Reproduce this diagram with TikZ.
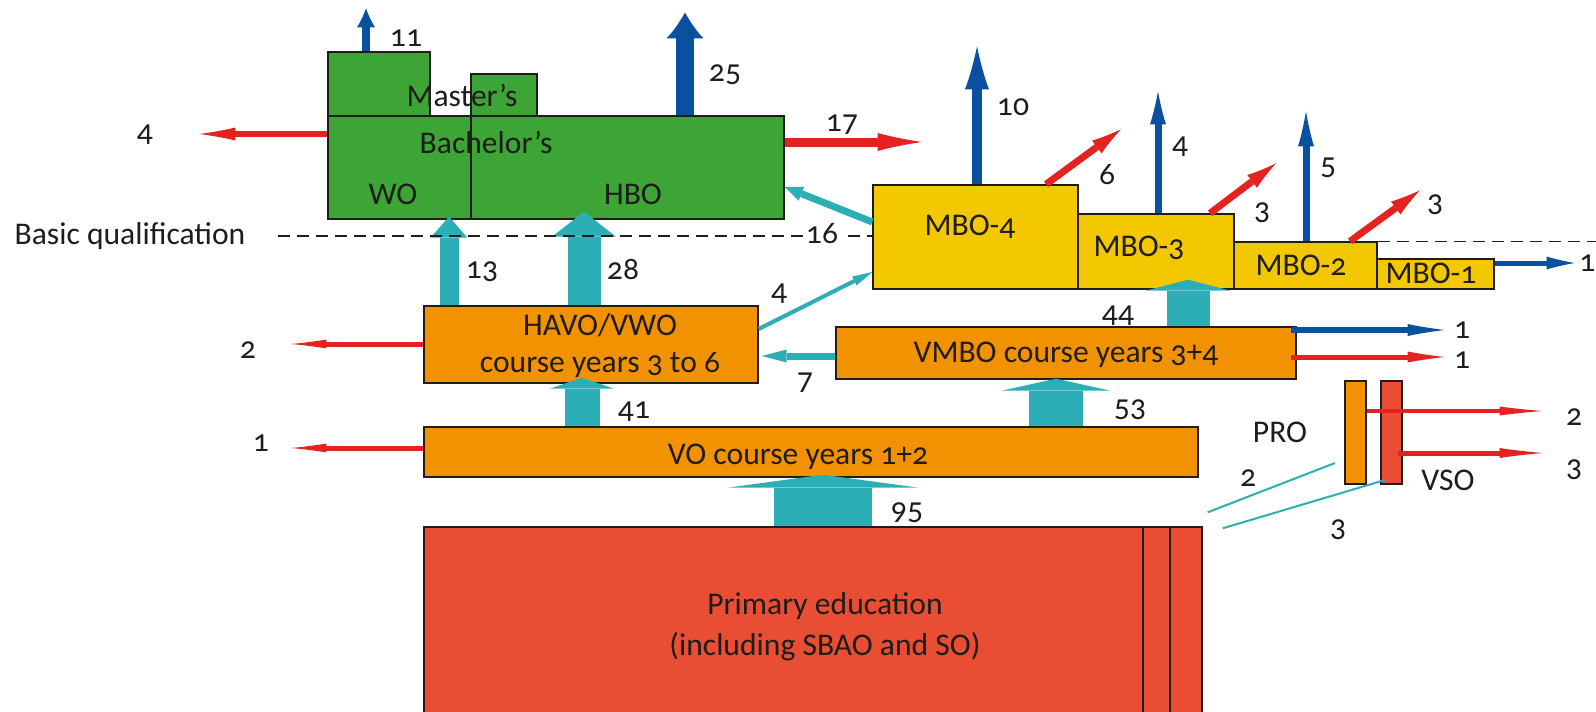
\documentclass[tikz,border=0pt]{standalone}
\usepackage{fontspec}
\setmainfont{Carlito}[Numbers=OldStyle]
\usetikzlibrary{arrows.meta,fit}
\definecolor{wogreen}{HTML}{3DA535}
\definecolor{vorange}{HTML}{F39200}
\definecolor{mboyellow}{HTML}{F3C800}
\definecolor{primred}{HTML}{E94E35}
\definecolor{flowteal}{HTML}{2BAEB5}
\definecolor{exitblue}{HTML}{0A50A1}
\definecolor{dropred}{HTML}{E42320}
\definecolor{inkdark}{HTML}{1D1D1B}
\begin{document}
\begin{tikzpicture}[x=0.5pt, y=-0.5pt, font=\fontsize{15.8}{18.5}\selectfont, text=inkdark,
  box/.style={draw=inkdark, line width=0.7pt, inner sep=0pt},
  lbl/.style={inner sep=0pt, align=center},
  flow/.style n args={3}{draw=flowteal, line width=#1, -{Triangle[width=#2, length=#3, line width=0pt]}},
  exit/.style n args={4}{draw=#1, line width=#2, -{Latex[width=#3, length=#4, line width=0pt]}}]
\useasboundingbox (0,0) rectangle (1596,712);

% higher education
\node[box, fill=wogreen, fit={(328,52) (430,116)}] (womaster) {};
\node[box, fill=wogreen, fit={(471,74) (537,116)}] (hbomaster) {};
\node[box, fill=wogreen, fit={(328,116) (471,219)}] (wo) {};
\node[box, fill=wogreen, fit={(471,116) (784,219)}] (hbo) {};

% MBO levels
\node[box, fill=mboyellow, fit={(873,185) (1078,289)}] (mbo4) {};
\node[box, fill=mboyellow, fit={(1078,214) (1234,289)}] (mbo3) {};
\node[box, fill=mboyellow, fit={(1234,242) (1377,289)}] (mbo2) {};
\node[box, fill=mboyellow, fit={(1377,259) (1494,289)}] (mbo1) {};

% secondary and primary
\node[box, fill=vorange, fit={(424,306) (758,383)}] (havo) {};
\node[box, fill=vorange, fit={(836,327) (1296,379)}] (vmbo) {};
\node[box, fill=vorange, fit={(424,427) (1198,477)}] (vo) {};
\node[box, fill=vorange, fit={(1345,381) (1366,484)}] (pro) {};
\node[box, fill=primred, fit={(1381,381) (1402,484)}] (vso) {};
\node[box, fill=primred, fit={(424,527) (1202,730)}] (prim) {};
\draw[inkdark, line width=0.7pt] (1143,0 |- prim.north) -- (1143,0 |- prim.south);
\draw[inkdark, line width=0.7pt] (1170,0 |- prim.north) -- (1170,0 |- prim.south);

% flows between levels
\draw[flow={49pt}{95.5pt}{6.5pt}, shorten >=-1.5pt] (823,0 |- prim.north) -- (823,0 |- vo.south);
\draw[flow={17.5pt}{32pt}{5.5pt}, shorten >=-3pt] (582,0 |- vo.north) -- (582,0 |- havo.south);
\draw[flow={27pt}{54.5pt}{6pt}, shorten >=-0.5pt] (1056,0 |- vo.north) -- (1056,0 |- vmbo.south);
\draw[flow={21.5pt}{42.5pt}{5.5pt}, shorten >=-5pt] (1188,0 |- vmbo.north) -- (1188,0 |- mbo3.south);
\draw[flow={9.5pt}{18.5pt}{10.5pt}, shorten >=-1.5pt] (449,0 |- havo.north) -- (449,0 |- wo.south);
\draw[flow={16.5pt}{32pt}{12.5pt}, shorten >=-4pt] (584,0 |- havo.north) -- (584,0 |- hbo.south);
\draw[flow={3.5pt}{7.5pt}{9pt}] (mbo4.west |- 0,222) -- (hbo.east |- 0,187);
\draw[flow={2pt}{5pt}{10pt}] (havo.east |- 0,329) -- (mbo4.west |- 0,272);
\draw[flow={3.5pt}{6.5pt}{12.5pt}, shorten >=1.5pt] (vmbo.west |- 0,356) -- (havo.east |- 0,356);
\coordinate (profeed) at (1335,463);
\coordinate (vsofeed) at (1385,480);
\draw[flowteal, line width=1pt] (prim.north east) ++(5,-14) -- (profeed);
\draw[flowteal, line width=1pt] (prim.north east) ++(20,2) -- (vsofeed);

% leaving with a qualification
\draw[exit={exitblue}{4pt}{9pt}{9.5pt}] (366,0 |- womaster.north) -- ++(0,-43);
\draw[exit={exitblue}{9pt}{18.5pt}{13pt}] (685,0 |- hbo.north) -- ++(0,-103);
\draw[exit={exitblue}{5pt}{12pt}{21.5pt}] (977,0 |- mbo4.north) -- ++(0,-138);
\draw[exit={exitblue}{3.5pt}{8pt}{16.5pt}] (1158,0 |- mbo3.north) -- ++(0,-122);
\draw[exit={exitblue}{3.5pt}{8pt}{17.5pt}] (1306,0 |- mbo2.north) -- ++(0,-130);
\draw[exit={exitblue}{2.5pt}{6.5pt}{14pt}] (mbo1.east |- 0,263) -- ++(80,0);
\draw[exit={exitblue}{3pt}{6pt}{18.5pt}] (vmbo.east |- 0,330) ++(-6,0) -- ++(154,0);

% leaving without one
\draw[exit={dropred}{3pt}{6.5pt}{18pt}] (wo.west |- 0,134) -- ++(-128,0);
\draw[exit={dropred}{4.5pt}{9pt}{22pt}] (hbo.east |- 0,142) -- ++(137,0);
\draw[exit={dropred}{3.5pt}{8pt}{15pt}] (1046,0 |- mbo4.north) -- ++(75,-55);
\draw[exit={dropred}{3.5pt}{8pt}{15pt}] (1210,0 |- mbo3.north) -- ++(66,-50);
\draw[exit={dropred}{3.5pt}{8pt}{15pt}] (1350,0 |- mbo2.north) -- ++(70,-51);
\draw[exit={dropred}{2.5pt}{4.5pt}{17.5pt}] (havo.west |- 0,344) -- ++(-132,0);
\draw[exit={dropred}{2.5pt}{4.5pt}{17.5pt}] (vo.west |- 0,448) -- ++(-132,0);
\draw[exit={dropred}{2.5pt}{5.5pt}{18.5pt}] (vmbo.east |- 0,357) ++(-6,0) -- ++(154,0);
\draw[exit={dropred}{2pt}{4.5pt}{21.5pt}] (pro.east |- 0,411) -- ++(176,0);
\draw[exit={dropred}{2.5pt}{5pt}{21.5pt}] (vso.east |- 0,453) ++(-5,0) -- ++(145,0);

% basic qualification line
\node[lbl] (basictxt) at (130,236) {Basic qualification};
\draw[inkdark, line width=0.6pt, dash pattern=on 6pt off 3.5pt] (278,236) -- (mbo4.west |- 0,236);
\draw[inkdark, line width=0.6pt, dash pattern=on 6pt off 3.5pt] (mbo2.north east) -- ++(225,0);

% box texts
\node[lbl] (mastertxt) at (462,95) {Master’s};
\node[lbl] (bachelortxt) at (486,142) {Bachelor’s};
\node[lbl] (wotxt) at (393,194) {WO};
\node[lbl] (hbotxt) at (633,194) {HBO};
\node[lbl] (mbo4txt) at (970,227) {MBO-4};
\node[lbl] (mbo3txt) at (1139,248) {MBO-3};
\node[lbl] (mbo2txt) at (1301,265) {MBO-2};
\node[lbl] (mbo1txt) at (1431,273) {MBO-1};
\node[lbl] (havotxt) at (600,346) {HAVO/VWO\\course years 3 to 6};
\node[lbl] (vmbotxt) at (1066,355) {VMBO course years 3+4};
\node[lbl] (votxt) at (798,457) {VO course years 1+2};
\node[lbl] (primtxt) at (825,627) {Primary education\\[2pt](including SBAO and SO)};
\node[lbl] (protxt) at (1280,432) {PRO};
\node[lbl] (vsotxt) at (1448,480) {VSO};

% numbers
\node[lbl] (n11) at (406,38) {11};
\node[lbl] (n25) at (725,75) {25};
\node[lbl] (n4a) at (145,135) {4};
\node[lbl] (n17) at (842,125) {17};
\node[lbl] (n10) at (1013,107) {10};
\node[lbl] (n4b) at (1180,147) {4};
\node[lbl] (n5) at (1328,168) {5};
\node[lbl] (n6) at (1107,175) {6};
\node[lbl] (n3a) at (1262,213) {3};
\node[lbl] (n3b) at (1435,205) {3};
\node[lbl, anchor=west] (n1a) at (1579,263) {1};
\node[lbl, fill=white, inner sep=1.5pt] (n16) at (822,234) {16};
\node[lbl] (n4c) at (779,294) {4};
\node[lbl] (n13) at (482,272) {13};
\node[lbl] (n28) at (623,269) {28};
\node[lbl] (n44) at (1118,316) {44};
\node[lbl] (n7) at (805,383) {7};
\node[lbl] (n41) at (634,412) {41};
\node[lbl] (n53) at (1130,410) {53};
\node[lbl] (n95) at (907,513) {95};
\node[lbl] (n2a) at (248,350) {2};
\node[lbl] (n1b) at (261,443) {1};
\node[lbl] (n1c) at (1462,330) {1};
\node[lbl] (n1d) at (1462,360) {1};
\node[lbl] (n2b) at (1574,417) {2};
\node[lbl] (n3c) at (1574,470) {3};
\node[lbl] (n2c) at (1248,478) {2};
\node[lbl] (n3d) at (1338,530) {3};
\end{tikzpicture}
\end{document}
